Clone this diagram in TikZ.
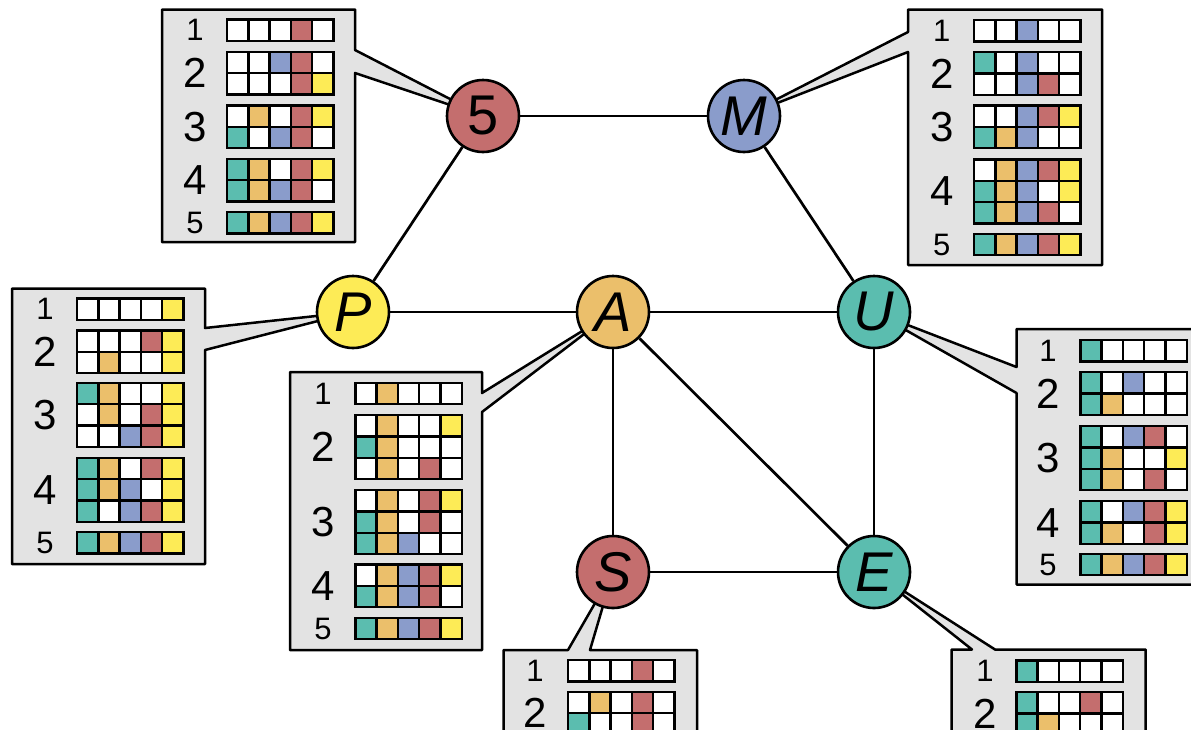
\documentclass[tikz,border=0pt]{standalone}
\usepackage{fontspec}
\setmainfont{Liberation Sans}
\usetikzlibrary{backgrounds}
\definecolor{cT}{RGB}{91,189,175}
\definecolor{cO}{RGB}{235,191,107}
\definecolor{cB}{RGB}{138,156,203}
\definecolor{cR}{RGB}{196,110,110}
\definecolor{cY}{RGB}{253,235,86}
\definecolor{cW}{RGB}{255,255,255}
\definecolor{boxgray}{RGB}{227,227,227}
\newcommand\cellsz{21.3}
\tikzset{
  cellst/.style={draw=black, line width=2.4pt},
  lbl/.style={inner sep=0pt, font=\fontsize{31}{31}\selectfont},
  lblbig/.style={inner sep=0pt, font=\fontsize{42}{42}\selectfont},
  callout/.style={draw=black, fill=boxgray, line width=2.5pt, line join=round},
  vert/.style={circle, draw=black, line width=2.6pt, minimum size=72pt, inner sep=0pt, font=\fontsize{56}{56}\selectfont\itshape},
  edge/.style={draw=black, line width=2.7pt},
}
% #1 box id, #2 grid x, #3 outer top, #4 label x, #5 label, #6 rows count, #7 rows
\newcommand\cellgroup[7]{%
  \foreach \r [count=\j from 0] in {#7} {
    \foreach \cc [count=\k from 0] in \r {
      \draw[cellst, fill=\cc] ({#2+\k*\cellsz},{#3+1.25+\j*\cellsz}) rectangle ++(\cellsz,\cellsz);
    }
  }
  \ifnum#6=1
    \node[lbl] (#1-#5) at (#4,{#3+1.25+#6*\cellsz/2}) {#5};
  \else
    \node[lblbig] (#1-#5) at (#4,{#3+1.25+#6*\cellsz/2}) {#5};
  \fi
}
\begin{document}
\begin{tikzpicture}[x=1pt,y=-1pt]
\useasboundingbox (0,0) rectangle (1191,729);
% nodes
\node[vert, fill=cR, font=\fontsize{56}{56}\selectfont] (n5) at (483,116) {5};
\node[vert, fill=cB] (nM) at (744,116) {M};
\node[vert, fill=cY] (nP) at (353,312) {P};
\node[vert, fill=cO] (nA) at (613,312) {A};
\node[vert, fill=cT] (nU) at (874,312) {U};
\node[vert, fill=cR] (nS) at (613,572) {S};
\node[vert, fill=cT] (nE) at (874,572) {E};
% edges
\draw[edge] (n5) -- (nM);
\draw[edge] (n5) -- (nP);
\draw[edge] (nM) -- (nU);
\draw[edge] (nP) -- (nA);
\draw[edge] (nA) -- (nU);
\draw[edge] (nA) -- (nS);
\draw[edge] (nA) -- (nE);
\draw[edge] (nU) -- (nE);
\draw[edge] (nS) -- (nE);
\begin{pgfonlayer}{background}
\begin{scope}
\clip (0,0) rectangle (1191,729);
% callout 5
\draw[callout] (162,9.5) -- (355,9.5) -- (355,50) -- (n5.center) -- (355,73) -- (355,242) -- (162,242) -- cycle;
\cellgroup{b5}{227}{18.3}{195}{1}{1}{{cW,cW,cW,cR,cW}}
\cellgroup{b5}{227}{50.7}{195}{2}{2}{{cW,cW,cB,cR,cW},{cW,cW,cW,cR,cY}}
\cellgroup{b5}{227}{104.3}{195}{3}{2}{{cW,cO,cW,cR,cY},{cT,cW,cB,cR,cW}}
\cellgroup{b5}{227}{157.7}{195}{4}{2}{{cT,cO,cW,cR,cY},{cT,cO,cB,cR,cW}}
\cellgroup{b5}{227}{211}{195}{5}{1}{{cT,cO,cB,cR,cY}}
% callout M
\draw[callout] (908,9.5) -- (1102,9.5) -- (1102,265) -- (908,265) -- (908,52) -- (nM.center) -- (908,32) -- cycle;
\cellgroup{bM}{974}{19}{941.7}{1}{1}{{cW,cW,cB,cW,cW}}
\cellgroup{bM}{974}{51}{941.7}{2}{2}{{cT,cW,cB,cW,cW},{cW,cW,cB,cR,cW}}
\cellgroup{bM}{974}{104.3}{941.7}{3}{2}{{cW,cW,cB,cR,cY},{cT,cO,cB,cW,cW}}
\cellgroup{bM}{974}{158.3}{941.7}{4}{3}{{cW,cO,cB,cR,cY},{cT,cO,cB,cW,cY},{cT,cO,cB,cR,cW}}
\cellgroup{bM}{974}{232.7}{941.7}{5}{1}{{cT,cO,cB,cR,cY}}
% callout P
\draw[callout] (12,288.5) -- (205,288.5) -- (205,328) -- (nP.center) -- (205,350) -- (205,564) -- (12,564) -- cycle;
\cellgroup{bP}{77}{297.3}{45}{1}{1}{{cW,cW,cW,cW,cY}}
\cellgroup{bP}{77}{329.3}{45}{2}{2}{{cW,cW,cW,cR,cY},{cW,cO,cW,cW,cY}}
\cellgroup{bP}{77}{381.7}{45}{3}{3}{{cT,cO,cW,cW,cY},{cW,cO,cW,cR,cY},{cW,cW,cB,cR,cY}}
\cellgroup{bP}{77}{456.7}{45}{4}{3}{{cT,cO,cW,cR,cY},{cT,cO,cB,cW,cY},{cT,cW,cB,cR,cY}}
\cellgroup{bP}{77}{531}{45}{5}{1}{{cT,cO,cB,cR,cY}}
% callout A
\draw[callout] (290,372) -- (482,372) -- (482,393) -- (nA.center) -- (482,412) -- (482,650) -- (290,650) -- cycle;
\cellgroup{bA}{355.3}{381.7}{323}{1}{1}{{cW,cO,cW,cW,cW}}
\cellgroup{bA}{355.3}{414}{323}{2}{3}{{cW,cO,cW,cW,cY},{cT,cO,cW,cW,cW},{cW,cO,cW,cR,cW}}
\cellgroup{bA}{355.3}{489}{323}{3}{3}{{cW,cO,cW,cR,cY},{cT,cO,cW,cR,cW},{cT,cO,cB,cW,cW}}
\cellgroup{bA}{355.3}{563.3}{323}{4}{2}{{cW,cO,cB,cR,cY},{cT,cO,cB,cR,cW}}
\cellgroup{bA}{355.3}{616.7}{323}{5}{1}{{cT,cO,cB,cR,cY}}
% callout U
\draw[callout] (1016.5,329) -- (1215,329) -- (1215,584.5) -- (1016.5,584.5) -- (1016.5,393) -- (nU.center) -- (1016.5,367) -- cycle;
\cellgroup{bU}{1080.3}{339}{1048}{1}{1}{{cT,cW,cW,cW,cW}}
\cellgroup{bU}{1080.3}{371}{1048}{2}{2}{{cT,cW,cB,cW,cW},{cT,cO,cW,cW,cW}}
\cellgroup{bU}{1080.3}{425}{1048}{3}{3}{{cT,cW,cB,cR,cW},{cT,cO,cW,cW,cY},{cT,cO,cW,cR,cW}}
\cellgroup{bU}{1080.3}{500}{1048}{4}{2}{{cT,cW,cB,cR,cY},{cT,cO,cW,cR,cY}}
\cellgroup{bU}{1080.3}{552.7}{1048}{5}{1}{{cT,cO,cB,cR,cY}}
% callout S
\draw[callout] (503.5,650) -- (568,650) -- (nS.center) -- (590,650) -- (697,650) -- (697,780) -- (503.5,780) -- cycle;
\cellgroup{bS}{568}{659}{535}{1}{1}{{cW,cW,cW,cR,cW}}
\cellgroup{bS}{568}{690.7}{535}{2}{2}{{cW,cO,cW,cR,cW},{cT,cW,cW,cR,cW}}
% callout E
\draw[callout] (951.5,649.5) -- (972,649.5) -- (nE.center) -- (995,649.5) -- (1145.5,649.5) -- (1145.5,780) -- (951.5,780) -- cycle;
\cellgroup{bE}{1016.3}{659.3}{985}{1}{1}{{cT,cW,cW,cW,cW}}
\cellgroup{bE}{1016.3}{691}{985}{2}{2}{{cT,cW,cW,cR,cW},{cT,cO,cW,cW,cW}}
\end{scope}
\end{pgfonlayer}
\end{tikzpicture}
\end{document}
